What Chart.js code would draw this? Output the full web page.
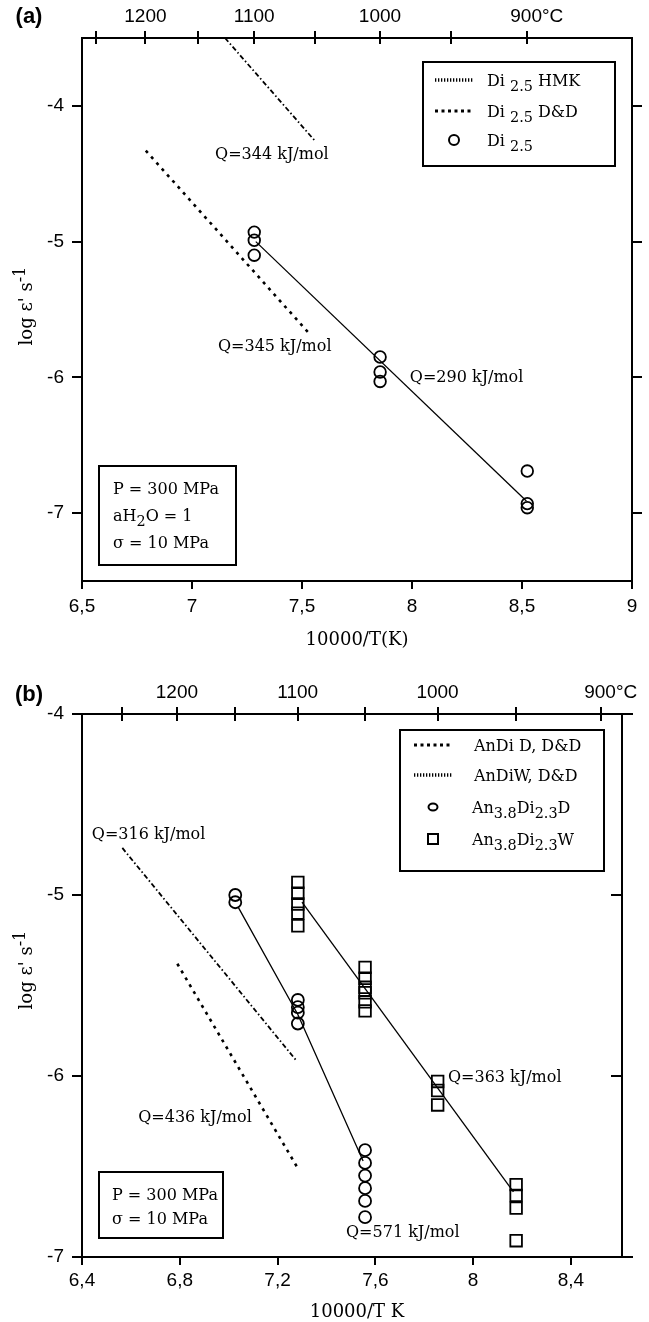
<!DOCTYPE html>
<html>
<head>
<meta charset="utf-8">
<script src="https://cdn.jsdelivr.net/npm/chart.js@4.4.0/dist/chart.umd.min.js"></script>
<style>
  html, body { margin: 0; padding: 0; background: #fff; }
  body { width: 649px; height: 1322px; position: relative; overflow: hidden; }
  canvas { position: absolute; left: 0; }
  #chartA { top: 0; }
  #chartB { top: 652px; }
</style>
</head>
<body>
<canvas id="chartA" width="649" height="652"></canvas>
<canvas id="chartB" width="649" height="670"></canvas>
<script>
// top axis: temperature in °C, placed at 10000/T(K)
const tempTicksC = [1250, 1200, 1150, 1100, 1050, 1000, 950, 900];
const tempLabelsC = ['', '1200', '', '1100', '', '1000', '', '\u2002\u2002900°C'];

// ---- panel (a) ----
const xTicksA = [6.5, 7, 7.5, 8, 8.5, 9];
const yTicksA = [-7, -6, -5, -4];
const di25X = [7.283, 7.283, 7.283, 7.855, 7.855, 7.855, 8.524, 8.524, 8.524];
const di25Y = [-4.93, -4.99, -5.10, -5.85, -5.96, -6.03, -6.69, -6.93, -6.96];
const di25FitX = [7.29, 8.52];
const di25FitY = [-5.0, -6.91];
const hmkX = [7.15, 7.56];
const hmkY = [-3.5, -4.26];
const ddAX = [6.79, 7.54];
const ddAY = [-4.33, -5.69];

// ---- panel (b) ----
const xTicksB = [6.4, 6.8, 7.2, 7.6, 8, 8.4];
const yTicksB = [-7, -6, -5, -4];
const anDiDX = [6.79, 7.283];
const anDiDY = [-5.38, -6.51];
const anDiWX = [6.565, 7.28];
const anDiWY = [-4.74, -5.92];
const an38DX = [7.027, 7.027, 7.283, 7.283, 7.283, 7.283, 7.558, 7.558, 7.558, 7.558, 7.558, 7.558];
const an38DY = [-5.00, -5.04, -5.58, -5.62, -5.65, -5.71, -6.41, -6.48, -6.55, -6.62, -6.69, -6.78];
const an38DFitX = [7.04, 7.283, 7.55];
const an38DFitY = [-5.07, -5.66, -6.47];
const an38WX = [7.283, 7.283, 7.283, 7.283, 7.283, 7.558, 7.558, 7.558, 7.558, 7.558, 7.558,
                7.855, 7.855, 7.855, 8.176, 8.176, 8.176, 8.176];
const an38WY = [-4.93, -4.99, -5.05, -5.10, -5.17, -5.40, -5.46, -5.51, -5.54, -5.59, -5.64,
                -6.03, -6.08, -6.16, -6.60, -6.66, -6.73, -6.91];
const an38WFitX = [7.30, 8.165];
const an38WFitY = [-5.04, -6.64];

const SERIF = "'DejaVu Serif', serif";
const TXT = 16;
const tickFont = { family: "'Liberation Sans Narrow', 'Liberation Sans', sans-serif", size: 19 };

const celsiusToX = c => 10000 / (c + 273.15);
const pts = (xs, ys) => xs.map((x, i) => ({ x: x, y: ys[i] }));
const comma = v => String(v).replace('.', ',');

function richWidth(ctx, parts, size) {
    let w = 0;
    parts.forEach(p => {
        ctx.font = (p[1] ? size * 0.9 : size) + 'px ' + SERIF;
        w += ctx.measureText(p[0]).width;
    });
    return w;
}

// parts: [[text, 'sub'|'sup'|undefined], ...]; y is the visual centre of the line
function drawRich(ctx, parts, x, y, size) {
    ctx.textAlign = 'left';
    ctx.textBaseline = 'alphabetic';
    const base = y + size * 0.36;
    parts.forEach(p => {
        const s = p[1] ? size * 0.9 : size;
        ctx.font = s + 'px ' + SERIF;
        const dy = p[1] === 'sub' ? size * 0.3 : p[1] === 'sup' ? -size * 0.4 : 0;
        ctx.fillText(p[0], x, base + dy);
        x += ctx.measureText(p[0]).width;
    });
}

function drawSample(ctx, it) {
    ctx.save();
    ctx.lineWidth = 2;
    if (it.kind === 'line') {
        ctx.lineWidth = it.width;
        ctx.setLineDash(it.dash);
        ctx.beginPath();
        ctx.moveTo(it.x0, it.y);
        ctx.lineTo(it.x1, it.y);
        ctx.stroke();
    } else if (it.kind === 'circle') {
        ctx.beginPath();
        ctx.ellipse(it.cx, it.y, it.rx, it.ry, 0, 0, Math.PI * 2);
        ctx.stroke();
    } else if (it.kind === 'square') {
        ctx.strokeRect(it.cx - it.s / 2, it.y - it.s / 2, it.s, it.s);
    }
    ctx.restore();
}

function makeDecor(spec) {
    return {
        id: 'decor',
        afterDraw(chart) {
            const ctx = chart.ctx;
            const xs = chart.scales.x, ys = chart.scales.y, top = chart.scales.x2;
            const area = chart.chartArea;
            ctx.save();
            ctx.fillStyle = '#000';
            ctx.strokeStyle = '#000';
            ctx.lineWidth = 2;
            ctx.setLineDash([]);

            // inner half of the top axis ticks (they cross the axis line)
            top.ticks.forEach(t => {
                const px = Math.round(top.getPixelForValue(t.value));
                ctx.beginPath();
                ctx.moveTo(px, area.top);
                ctx.lineTo(px, area.top + spec.innerTick);
                ctx.stroke();
            });

            // Q labels, placed in data units
            spec.notes.forEach(n => {
                drawRich(ctx, [[n.text]], xs.getPixelForValue(n.x), ys.getPixelForValue(n.y), TXT);
            });

            // legend
            const lb = spec.legend.box;
            ctx.lineWidth = 2;
            ctx.strokeRect(lb[0], lb[1], lb[2] - lb[0], lb[3] - lb[1]);
            spec.legend.items.forEach(it => {
                drawSample(ctx, it);
                drawRich(ctx, it.text, it.tx, it.y, TXT);
            });

            // conditions box
            const ib = spec.info.box;
            ctx.strokeRect(ib[0], ib[1], ib[2] - ib[0], ib[3] - ib[1]);
            spec.info.lines.forEach(l => drawRich(ctx, l.text, spec.info.tx, l.y, TXT));

            // panel letter
            ctx.font = 'bold 22px "Liberation Sans", Arial, sans-serif';
            ctx.textAlign = 'center';
            ctx.textBaseline = 'middle';
            ctx.fillText(spec.letter, spec.letterPos[0], spec.letterPos[1]);

            // y axis title with superscript
            const yt = [['log \u03b5\' s'], ['-1', 'sup']];
            ctx.save();
            ctx.translate(spec.yTitlePos[0], spec.yTitlePos[1]);
            ctx.rotate(-Math.PI / 2);
            const w = richWidth(ctx, yt, 18);
            drawRich(ctx, yt, -w / 2, 0, 18);
            ctx.restore();

            ctx.restore();
        }
    };
}

function grid(len) {
    return { display: true, drawOnChartArea: false, drawTicks: true, tickLength: len, color: '#000', lineWidth: 2 };
}
const border = { display: true, color: '#000', width: 2 };

function buildScales(o) {
    return {
        x: {
            type: 'linear', position: 'bottom', min: o.xMin, max: o.xMax,
            afterBuildTicks: s => { s.ticks = o.xTicks.map(v => ({ value: v })); },
            ticks: { callback: v => comma(v), font: tickFont, color: '#000', padding: o.xPad, maxRotation: 0, autoSkip: false },
            grid: grid(8), border: border,
            title: { display: true, text: o.xTitle, color: '#000', font: { family: SERIF, size: 18, lineHeight: 1 }, padding: { top: 0, bottom: o.xTitlePad } },
            afterFit: s => { s.height = o.bottomH; }
        },
        x2: {
            type: 'linear', position: 'top', min: o.xMin, max: o.xMax,
            afterBuildTicks: s => { s.ticks = tempTicksC.map(c => ({ value: celsiusToX(c) })); },
            ticks: { callback: (v, i) => tempLabelsC[i], font: tickFont, color: '#000', padding: 3, maxRotation: 0, autoSkip: false },
            grid: grid(7), border: border,
            afterFit: s => { s.height = o.topH; }
        },
        y: {
            type: 'linear', position: 'left', min: o.yMin, max: o.yMax,
            afterBuildTicks: s => { s.ticks = o.yTicks.map(v => ({ value: v })); },
            ticks: { callback: v => String(v), font: tickFont, color: '#000', padding: 8 },
            grid: grid(10), border: border,
            afterFit: s => { s.width = 82; }
        },
        y2: {
            type: 'linear', position: o.rightPos, min: o.yMin, max: o.yMax,
            afterBuildTicks: s => { s.ticks = o.yTicks.map(v => ({ value: v })); },
            ticks: { display: false },
            grid: grid(10), border: border,
            afterFit: s => { s.width = 17; }
        }
    };
}

function pointSet(xs, ys, style, r) {
    return {
        data: pts(xs, ys), showLine: false, pointStyle: style, pointRadius: r,
        pointBorderWidth: 1.8, borderColor: '#000', pointBorderColor: '#000', backgroundColor: 'rgba(0,0,0,0)',
        pointBackgroundColor: 'rgba(0,0,0,0)'
    };
}
function lineSet(xs, ys, dash, width) {
    return {
        data: pts(xs, ys), showLine: true, borderColor: '#000', borderWidth: width,
        borderDash: dash, pointRadius: 0, fill: false, tension: 0
    };
}

const fineDash = [5, 2.5, 1.5, 2.5];
const coarseDash = [3, 5];

const commonOpts = {
    responsive: false, animation: false, events: [],
    plugins: { legend: { display: false }, tooltip: { enabled: false } }
};

// panel (a)
new Chart(document.getElementById('chartA').getContext('2d'), {
    type: 'scatter',
    data: {
        datasets: [
            lineSet(hmkX, hmkY, fineDash, 1.8),
            lineSet(ddAX, ddAY, coarseDash, 2.6),
            lineSet(di25FitX, di25FitY, [], 1.3),
            pointSet(di25X, di25Y, 'circle', 5.8)
        ]
    },
    options: Object.assign({}, commonOpts, {
        layout: { padding: 0 },
        scales: buildScales({
            xMin: 6.5, xMax: 9, yMin: -7.5, yMax: -3.5, xTicks: xTicksA, yTicks: yTicksA,
            xTitle: '10000/T(K)', xPad: 6, xTitlePad: 3, bottomH: 71, topH: 38, rightPos: 'right'
        })
    }),
    plugins: [makeDecor({
        innerTick: 6,
        letter: '(a)', letterPos: [29, 17], yTitlePos: [26, 306],
        notes: [
            { text: 'Q=344 kJ/mol', x: 7.105, y: -4.35 },
            { text: 'Q=345 kJ/mol', x: 7.118, y: -5.76 },
            { text: 'Q=290 kJ/mol', x: 7.99, y: -5.99 }
        ],
        legend: {
            box: [423, 62, 615, 166],
            items: [
                { kind: 'line', dash: [1.3, 1.7], width: 3.5, x0: 435, x1: 474, y: 80, tx: 487, text: [['Di '], ['2.5', 'sub'], [' HMK']] },
                { kind: 'line', dash: [3, 3.5], width: 3, x0: 435, x1: 474, y: 111, tx: 487, text: [['Di '], ['2.5', 'sub'], [' D&D']] },
                { kind: 'circle', cx: 454, rx: 5, ry: 5, y: 140, tx: 487, text: [['Di '], ['2.5', 'sub']] }
            ]
        },
        info: {
            box: [99, 466, 236, 565], tx: 113,
            lines: [
                { y: 488, text: [['P = 300 MPa']] },
                { y: 515, text: [['aH'], ['2', 'sub'], ['O = 1']] },
                { y: 542, text: [['\u03c3 = 10 MPa']] }
            ]
        }
    })]
});

// panel (b)
new Chart(document.getElementById('chartB').getContext('2d'), {
    type: 'scatter',
    data: {
        datasets: [
            lineSet(anDiDX, anDiDY, coarseDash, 2.6),
            lineSet(anDiWX, anDiWY, fineDash, 1.8),
            lineSet(an38DFitX, an38DFitY, [], 1.3),
            lineSet(an38WFitX, an38WFitY, [], 1.3),
            pointSet(an38DX, an38DY, 'circle', 6),
            pointSet(an38WX, an38WY, 'rect', 8.2)
        ]
    },
    options: Object.assign({}, commonOpts, {
        layout: { padding: { right: 17 } },
        scales: buildScales({
            xMin: 6.4, xMax: 8.65, yMin: -7, yMax: -4, xTicks: xTicksB, yTicks: yTicksB,
            xTitle: '10000/T K', xPad: 4, xTitlePad: 1, bottomH: 65, topH: 62, rightPos: { x: 8.61 }
        })
    }),
    plugins: [makeDecor({
        innerTick: 7,
        letter: '(b)', letterPos: [29, 43], yTitlePos: [26, 318],
        notes: [
            { text: 'Q=316 kJ/mol', x: 6.44, y: -4.66 },
            { text: 'Q=436 kJ/mol', x: 6.63, y: -6.22 },
            { text: 'Q=571 kJ/mol', x: 7.48, y: -6.86 },
            { text: 'Q=363 kJ/mol', x: 7.897, y: -6.0 }
        ],
        legend: {
            box: [400, 78, 604, 219],
            items: [
                { kind: 'line', dash: [3, 3.5], width: 3, x0: 414, x1: 452, y: 93, tx: 474, text: [['AnDi D, D&D']] },
                { kind: 'line', dash: [1.3, 1.7], width: 3.5, x0: 414, x1: 452, y: 123, tx: 474, text: [['AnDiW, D&D']] },
                { kind: 'circle', cx: 433, rx: 4.5, ry: 3.5, y: 155, tx: 472, text: [['An'], ['3.8', 'sub'], ['Di'], ['2.3', 'sub'], ['D']] },
                { kind: 'square', cx: 433, s: 10, y: 187, tx: 472, text: [['An'], ['3.8', 'sub'], ['Di'], ['2.3', 'sub'], ['W']] }
            ]
        },
        info: {
            box: [99, 520, 223, 586], tx: 112,
            lines: [
                { y: 542, text: [['P = 300 MPa']] },
                { y: 566, text: [['\u03c3 = 10 MPa']] }
            ]
        }
    })]
});
</script>
</body>
</html>
